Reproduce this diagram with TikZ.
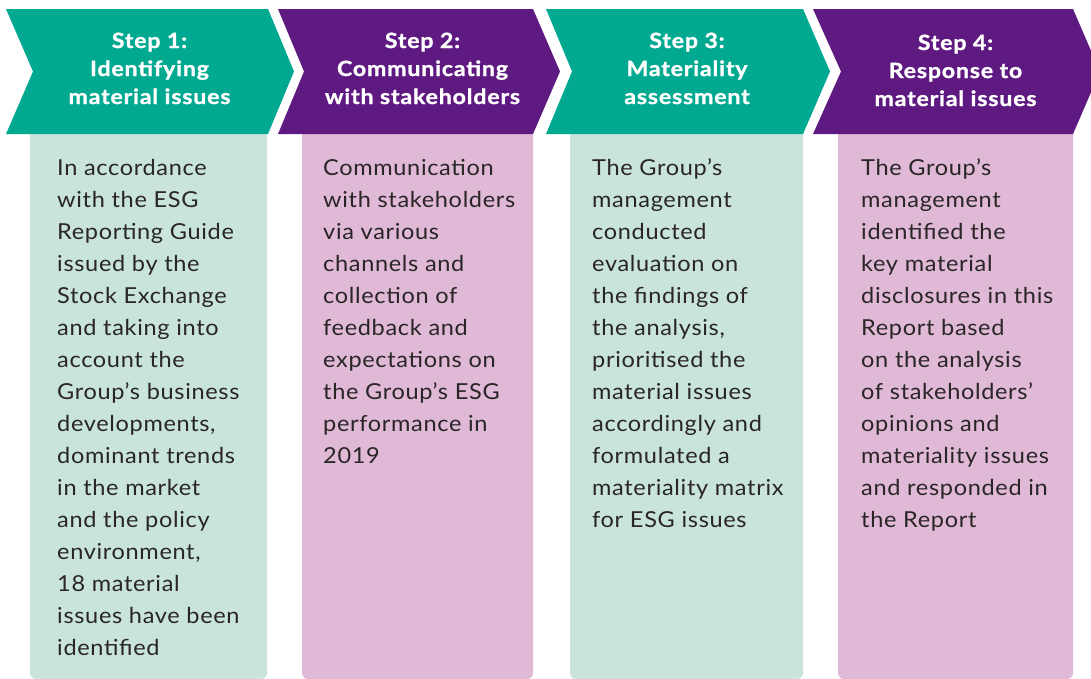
\documentclass[tikz,border=0pt]{standalone}
\usepackage{fontspec}
\setmainfont{Lato}
\newfontfamily\panelfont{Lato}[FakeStretch=1.07, LetterSpace=3]
\newfontfamily\titlefont{Lato}[FakeStretch=1.1, LetterSpace=4, BoldFeatures={FakeBold=1.2}]
\definecolor{tealdark}{HTML}{00A98F}
\definecolor{purpledark}{HTML}{5F1A82}
\definecolor{teallight}{HTML}{C9E4DD}
\definecolor{pinklight}{HTML}{DFB9D6}
\definecolor{bodytext}{HTML}{2A2526}
\tikzset{
  headtext/.style={anchor=base, inner sep=0pt, text=white,
    font=\titlefont\fontsize{21}{28}\selectfont\bfseries},
  bodybox/.style={anchor=base west, inner sep=0pt, text=bodytext,
    font=\panelfont\fontsize{22}{32}\selectfont},
}
\newcommand{\headlines}[1]{\parbox[t]{250pt}{\centering #1}}
\newcommand{\bodylines}[1]{\parbox[t]{245pt}{\raggedright #1}}
\begin{document}
\begin{tikzpicture}[x=1pt,y=-1pt]
\useasboundingbox (0,0) rectangle (1091,678);
% light description panels, rounded at the bottom, tucked under the arrows
\fill[teallight,rounded corners=6pt] (30,120) rectangle (267,679);
\fill[pinklight,rounded corners=6pt] (302,120) rectangle (533,679);
\fill[teallight,rounded corners=6pt] (570,120) rectangle (803,679);
\fill[pinklight,rounded corners=6pt] (838,120) rectangle (1073,679);
% chevron arrows
\fill[tealdark] (6,9) -- (268,9) -- (294,71.5) -- (268,134) -- (6,134) -- (33,71.5) -- cycle;
\fill[purpledark] (278,9) -- (533,9) -- (560,71.5) -- (533,134) -- (278,134) -- (304,71.5) -- cycle;
\fill[tealdark] (546,9) -- (803,9) -- (830,71.5) -- (803,134) -- (546,134) -- (572,71.5) -- cycle;
\fill[purpledark] (813,9) -- (1073,9) -- (1100,71.5) -- (1073,134) -- (813,134) -- (841,71.5) -- cycle;
% arrow titles
\node[headtext] (h1) at (149.5,48) {\headlines{Step 1:\\Identifying\\material issues}};
\node[headtext] (h2) at (422.5,48) {\headlines{Step 2:\\Communicating\\with stakeholders}};
\node[headtext] (h3) at (687,48) {\headlines{Step 3:\\Materiality\\assessment}};
\node[headtext] (h4) at (955.5,50) {\headlines{Step 4:\\Response to\\material issues}};
% panel texts
\node[bodybox] (b1) at (57,175) {\bodylines{In accordance\\with the ESG\\Reporting Guide\\issued by the\\Stock Exchange\\and taking into\\account the\\Group’s business\\developments,\\dominant trends\\in the market\\and the policy\\environment,\\18 material\\issues have been\\identified}};
\node[bodybox] (b2) at (323,175) {\bodylines{Communication\\with stakeholders\\via various\\channels and\\collection of\\feedback and\\expectations on\\the Group’s ESG\\performance in\\2019}};
\node[bodybox] (b3) at (592,175) {\bodylines{The Group’s\\management\\conducted\\evaluation on\\the findings of\\the analysis,\\prioritised the\\material issues\\accordingly and\\formulated a\\materiality matrix\\for ESG issues}};
\node[bodybox] (b4) at (861,175) {\bodylines{The Group’s\\management\\identified the\\key material\\disclosures in this\\Report based\\on the analysis\\of stakeholders’\\opinions and\\materiality issues\\and responded in\\the Report}};
\end{tikzpicture}
\end{document}
